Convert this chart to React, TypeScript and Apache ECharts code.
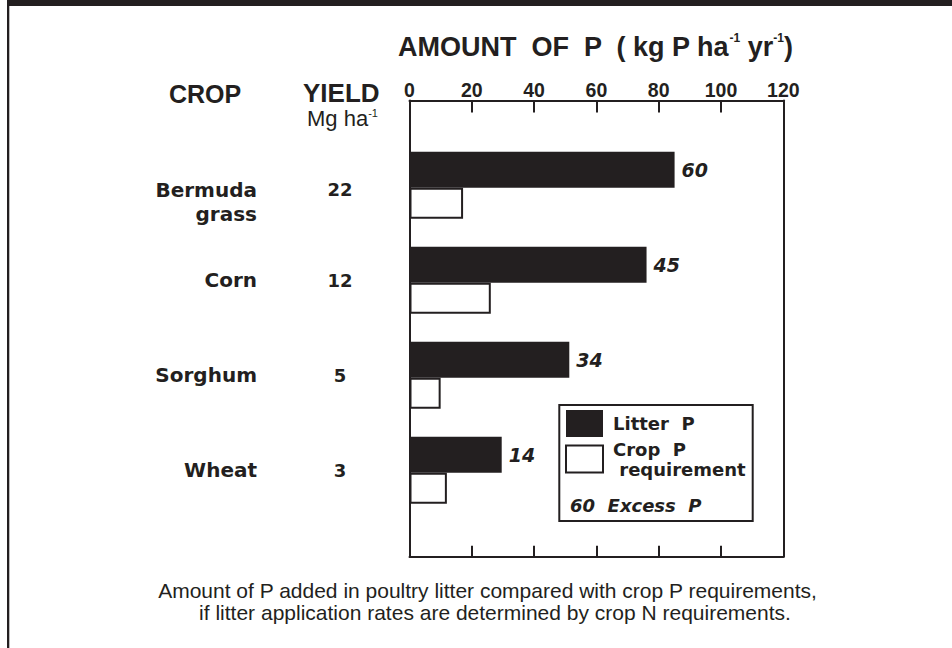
import React, { useEffect, useRef } from "react";
import * as echarts from "echarts";

// ---- data ----
const crops = ["Bermuda grass", "Corn", "Sorghum", "Wheat"];
const yields = [22, 12, 5, 3];
const litterP = [85.1, 76.1, 51.3, 29.6];
const cropP = [17.2, 26.1, 10.0, 12.0];
const excessP = [60, 45, 34, 14];
const amountTicks = [0, 20, 40, 60, 80, 100, 120];
const seriesNames = ["Litter  P", "Crop  P\n requirement"];

const INK = "#231f20";
const ARIAL = "'Liberation Sans', Arial, sans-serif";
const WIDE = "'DejaVu Sans', Verdana, sans-serif";

export default function App() {
  const ref = useRef<HTMLDivElement>(null);

  useEffect(() => {
    if (!ref.current) return;
    const chart = echarts.init(ref.current, undefined, { renderer: "svg" });

    const axMin = amountTicks[0];
    const axMax = amountTicks[amountTicks.length - 1];
    const axStep = amountTicks[1] - amountTicks[0];

    const frameLine = {
      show: true,
      onZero: false,
      lineStyle: { color: INK, width: 2 },
    };

    const cropRich = {
      sp0: { height: 33, lineHeight: 33, align: "right", fontSize: 4 },
      c: {
        fontFamily: WIDE,
        fontWeight: "bold",
        fontSize: 20,
        lineHeight: 24,
        color: INK,
        align: "right",
      },
    };
    const yieldRich = {
      sp0: { height: 9, lineHeight: 9, align: "center", fontSize: 4 },
      v: {
        fontFamily: WIDE,
        fontWeight: "bold",
        fontSize: 18,
        lineHeight: 22,
        color: INK,
        align: "center",
      },
    };

    const option: any = {
      animation: false,
      backgroundColor: "#ffffff",
      grid: [
        // frame grid (box with ticks)
        {
          left: 409.5,
          right: 952 - 783.3,
          top: 100.5,
          bottom: 648 - 556.7,
        },
        // bar grid
        {
          left: 409.5,
          right: 952 - 783.3,
          top: 137.7,
          bottom: 130.3,
        },
      ],
      xAxis: [
        {
          gridIndex: 0,
          type: "value",
          position: "top",
          min: axMin,
          max: axMax,
          interval: axStep,
          axisLine: frameLine,
          axisTick: {
            show: true,
            inside: true,
            length: 12,
            lineStyle: { color: INK, width: 2 },
          },
          splitLine: { show: false },
          axisLabel: {
            show: true,
            margin: 1,
            color: INK,
            fontFamily: ARIAL,
            fontWeight: "bold",
            fontSize: 19.5,
          },
        },
        {
          gridIndex: 0,
          type: "value",
          position: "bottom",
          min: axMin,
          max: axMax,
          interval: axStep,
          axisLine: frameLine,
          axisTick: {
            show: true,
            inside: true,
            length: 11,
            lineStyle: { color: INK, width: 2 },
          },
          splitLine: { show: false },
          axisLabel: { show: false },
        },
        {
          gridIndex: 1,
          type: "value",
          min: axMin,
          max: axMax,
          show: false,
        },
      ],
      yAxis: [
        {
          gridIndex: 0,
          type: "value",
          position: "left",
          min: 0,
          max: 1,
          axisLine: frameLine,
          axisTick: { show: false },
          axisLabel: { show: false },
          splitLine: { show: false },
        },
        {
          gridIndex: 0,
          type: "value",
          position: "right",
          min: 0,
          max: 1,
          axisLine: frameLine,
          axisTick: { show: false },
          axisLabel: { show: false },
          splitLine: { show: false },
        },
        {
          gridIndex: 1,
          type: "category",
          inverse: true,
          data: crops,
          position: "left",
          axisLine: { show: false },
          axisTick: { show: false },
          splitLine: { show: false },
          axisLabel: {
            margin: 409.5 - 257,
            formatter: (v: string) => {
              const parts = v.split(" ");
              if (parts.length > 1) {
                return `{sp0| }\n` + parts.map((p) => `{c|${p}}`).join("\n");
              }
              return `{c|${v}}`;
            },
            rich: cropRich,
          },
        },
        {
          gridIndex: 1,
          type: "category",
          inverse: true,
          data: crops,
          position: "left",
          axisLine: { show: false },
          axisTick: { show: false },
          splitLine: { show: false },
          axisLabel: {
            margin: 409.5 - 340,
            align: "center",
            formatter: (_v: string, i: number) =>
              i === 0 ? `{sp0| }\n{v|${yields[i]}}` : `{v|${yields[i]}}`,
            rich: yieldRich,
          },
        },
      ],
      legend: {
        orient: "vertical",
        left: 565,
        top: 410,
        padding: 0,
        itemWidth: 37,
        itemHeight: 27,
        itemGap: 3,
        icon: "rect",
        selectedMode: false,
        data: seriesNames,
        formatter: (n: string) =>
          n
            .split("\n")
            .map((s) => `{t|${s}}`)
            .join("\n"),
        textStyle: {
          rich: {
            t: {
              fontFamily: WIDE,
              fontWeight: "bold",
              fontSize: 18,
              lineHeight: 20,
              color: INK,
              padding: [0, 0, 0, 5],
            },
          },
        },
      },
      series: [
        {
          type: "bar",
          name: seriesNames[0],
          xAxisIndex: 2,
          yAxisIndex: 2,
          data: litterP,
          barWidth: 36,
          barGap: "0%",
          itemStyle: { color: INK },
          label: {
            show: true,
            position: "right",
            distance: 7,
            formatter: (p: any) => String(excessP[p.dataIndex]),
            color: INK,
            fontFamily: WIDE,
            fontStyle: "italic",
            fontWeight: "bold",
            fontSize: 19,
          },
        },
        {
          type: "bar",
          name: seriesNames[1],
          xAxisIndex: 2,
          yAxisIndex: 2,
          data: cropP,
          barWidth: 31,
          barGap: "0%",
          itemStyle: { color: "#ffffff", borderColor: INK, borderWidth: 2 },
        },
      ],
      graphic: [
        {
          type: "rect",
          shape: { x: 7, y: 0, width: 945, height: 6 },
          style: { fill: INK },
          silent: true,
        },
        {
          type: "rect",
          shape: { x: 7, y: 0, width: 2.3, height: 648 },
          style: { fill: INK },
          silent: true,
        },
        {
          type: "rect",
          shape: { x: 559.3, y: 405, width: 193.4, height: 116 },
          style: { fill: "none", stroke: INK, lineWidth: 2 },
          silent: true,
        },
        {
          type: "text",
          x: 570,
          y: 505,
          style: {
            text: "60  Excess  P",
            fill: INK,
            fontFamily: WIDE,
            fontStyle: "italic",
            fontWeight: "bold",
            fontSize: 18,
            verticalAlign: "middle",
          },
        },
        {
          type: "text",
          x: 398,
          y: 47,
          style: {
            text: "{t|AMOUNT  OF  P  ( kg P ha}{s|-1}{t| yr}{s|-1}{t|)}",
            verticalAlign: "middle",
            rich: {
              t: {
                fontFamily: ARIAL,
                fontWeight: "bold",
                fontSize: 27,
                lineHeight: 30,
                fill: INK,
                color: INK,
              },
              s: {
                fontFamily: ARIAL,
                fontWeight: "bold",
                fontSize: 12,
                lineHeight: 27,
                verticalAlign: "top",
                fill: INK,
                color: INK,
              },
            },
          },
        },
        {
          type: "text",
          x: 169,
          y: 93.5,
          style: {
            text: "CROP",
            fill: INK,
            fontFamily: ARIAL,
            fontWeight: "bold",
            fontSize: 25,
            lineHeight: 22,
            verticalAlign: "middle",
          },
        },
        {
          type: "text",
          x: 303,
          y: 92.5,
          style: {
            text: "YIELD",
            fill: INK,
            fontFamily: ARIAL,
            fontWeight: "bold",
            fontSize: 26,
            lineHeight: 22,
            verticalAlign: "middle",
          },
        },
        {
          type: "text",
          x: 307,
          y: 118.5,
          style: {
            text: "{t|Mg ha}{s|-1}",
            verticalAlign: "middle",
            rich: {
              t: {
                fontFamily: ARIAL,
                fontSize: 22,
                lineHeight: 22,
                fill: INK,
                color: INK,
              },
              s: {
                fontFamily: ARIAL,
                fontSize: 11,
                lineHeight: 18,
                verticalAlign: "top",
                fill: INK,
                color: INK,
              },
            },
          },
        },
        {
          type: "text",
          x: 487.5,
          y: 590.5,
          style: {
            text:
              "Amount of P added in poultry litter compared with crop P requirements,",
            fill: INK,
            fontFamily: ARIAL,
            fontSize: 21,
            lineHeight: 21,
            align: "center",
            verticalAlign: "middle",
          },
        },
        {
          type: "text",
          x: 495,
          y: 612.5,
          style: {
            text: "if litter application rates are determined by crop N requirements.",
            fill: INK,
            fontFamily: ARIAL,
            fontSize: 21,
            lineHeight: 21,
            align: "center",
            verticalAlign: "middle",
          },
        },
      ],
    };

    chart.setOption(option);
    return () => chart.dispose();
  }, []);

  return (
    <div
      ref={ref}
      style={{ position: "fixed", left: 0, top: 0, width: 952, height: 648 }}
    />
  );
}
